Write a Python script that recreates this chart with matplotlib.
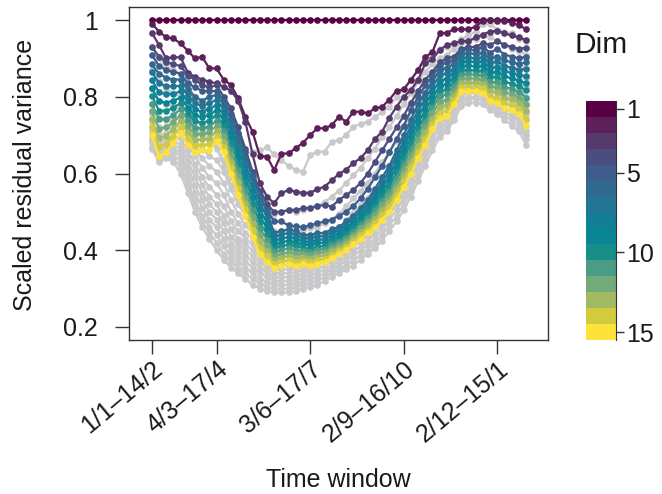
import matplotlib
matplotlib.use("Agg")
import matplotlib.pyplot as plt
import numpy as np
from matplotlib.colors import ListedColormap

plt.rcParams["font.family"] = ["Liberation Sans", "DejaVu Sans"]

# time windows (weekly steps of a 45-day window), labelled every few windows
n_windows = 53
tick_pos = [0, 9, 22, 35, 48]
tick_labels = ["1/1\u201314/2", "4/3\u201317/4", "3/6\u201317/7", "2/9\u201316/10", "2/12\u201315/1"]

dim_ticks = [1, 5, 10, 15]
dim_colors = ["#590045", "#5C2159", "#573A6C", "#4B4D7E", "#3E5D8A",
              "#316A90", "#237594", "#127E97", "#088693", "#188D8A",
              "#4A9C86", "#73AA7A", "#A3BA62", "#D3CB3E", "#FDE23A"]

# scaled residual variance, one list per dimension
dim1 = [1.0, 1.0, 1.0, 1.0, 1.0, 1.0, 1.0, 1.0, 1.0, 1.0, 1.0, 1.0, 1.0, 1.0, 1.0, 1.0, 1.0, 1.0,
        1.0, 1.0, 1.0, 1.0, 1.0, 1.0, 1.0, 1.0, 1.0, 1.0, 1.0, 1.0, 1.0, 1.0, 1.0, 1.0, 1.0, 1.0,
        1.0, 1.0, 1.0, 1.0, 1.0, 1.0, 1.0, 1.0, 1.0, 1.0, 1.0, 1.0, 1.0, 1.0, 1.0, 1.0, 1.0]
dim2 = [0.991, 0.970, 0.955, 0.952, 0.939, 0.920, 0.900, 0.904, 0.874, 0.874, 0.844, 0.831, 0.796,
        0.748, 0.709, 0.646, 0.644, 0.609, 0.651, 0.653, 0.666, 0.680, 0.700, 0.718, 0.718, 0.726,
        0.748, 0.735, 0.761, 0.761, 0.757, 0.770, 0.774, 0.792, 0.816, 0.819, 0.844, 0.870, 0.904,
        0.917, 0.965, 0.967, 0.976, 0.976, 0.976, 0.983, 0.998, 1.0, 0.998, 0.998, 0.993, 0.987, 0.976]
dim3 = [0.967, 0.935, 0.90, 0.903, 0.903, 0.863, 0.852, 0.845, 0.839, 0.835, 0.826, 0.816, 0.79,
        0.735, 0.65, 0.575, 0.54, 0.522, 0.549, 0.557, 0.553, 0.549, 0.55, 0.559, 0.566, 0.582,
        0.599, 0.61, 0.627, 0.64, 0.661, 0.69, 0.709, 0.745, 0.774, 0.80, 0.818, 0.844, 0.887,
        0.898, 0.922, 0.935, 0.94, 0.945, 0.945, 0.955, 0.962, 0.97, 0.972, 0.965, 0.96, 0.955, 0.948]
dim4 = [0.93, 0.905, 0.89, 0.885, 0.88, 0.855, 0.845, 0.83, 0.825, 0.83, 0.80, 0.77, 0.72,
        0.665, 0.605, 0.555, 0.52, 0.50, 0.50, 0.505, 0.505, 0.509, 0.511, 0.515, 0.518, 0.514,
        0.531, 0.544, 0.557, 0.575, 0.60, 0.63, 0.66, 0.69, 0.72, 0.75, 0.785, 0.815, 0.845,
        0.865, 0.89, 0.90, 0.905, 0.925, 0.93, 0.93, 0.94, 0.935, 0.945, 0.935, 0.93, 0.925, 0.928]
dim5 = [0.91, 0.88, 0.87, 0.865, 0.86, 0.835, 0.825, 0.815, 0.815, 0.815, 0.79, 0.755, 0.705,
        0.655, 0.60, 0.545, 0.505, 0.475, 0.475, 0.465, 0.462, 0.46, 0.465, 0.47, 0.475, 0.48,
        0.49, 0.50, 0.515, 0.535, 0.56, 0.59, 0.62, 0.655, 0.69, 0.725, 0.765, 0.80, 0.83,
        0.855, 0.88, 0.89, 0.895, 0.92, 0.925, 0.92, 0.93, 0.915, 0.925, 0.91, 0.905, 0.90, 0.904]
dim6 = [0.885, 0.86, 0.85, 0.845, 0.845, 0.82, 0.80, 0.79, 0.80, 0.805, 0.78, 0.74, 0.69,
        0.64, 0.59, 0.54, 0.50, 0.445, 0.45, 0.455, 0.45, 0.44, 0.44, 0.445, 0.445, 0.455,
        0.46, 0.475, 0.49, 0.51, 0.53, 0.56, 0.59, 0.62, 0.66, 0.70, 0.74, 0.78, 0.81,
        0.84, 0.87, 0.875, 0.885, 0.91, 0.915, 0.91, 0.915, 0.90, 0.905, 0.895, 0.89, 0.885, 0.89]
dim7 = [0.864, 0.836, 0.828, 0.827, 0.829, 0.804, 0.784, 0.776, 0.784, 0.792, 0.766, 0.724, 0.674,
        0.623, 0.573, 0.523, 0.486, 0.435, 0.44, 0.445, 0.44, 0.432, 0.431, 0.436, 0.437, 0.447,
        0.452, 0.467, 0.482, 0.501, 0.521, 0.549, 0.578, 0.607, 0.646, 0.685, 0.724, 0.764, 0.795,
        0.826, 0.856, 0.861, 0.873, 0.899, 0.904, 0.899, 0.903, 0.888, 0.892, 0.881, 0.876, 0.871, 0.872]
dim8 = [0.844, 0.812, 0.807, 0.808, 0.814, 0.788, 0.768, 0.761, 0.769, 0.778, 0.752, 0.709, 0.658,
        0.607, 0.556, 0.507, 0.471, 0.425, 0.43, 0.435, 0.43, 0.423, 0.422, 0.427, 0.428, 0.438,
        0.444, 0.458, 0.473, 0.492, 0.511, 0.538, 0.566, 0.593, 0.631, 0.67, 0.709, 0.749, 0.78,
        0.812, 0.842, 0.847, 0.862, 0.889, 0.893, 0.889, 0.892, 0.876, 0.878, 0.867, 0.862, 0.856, 0.853]
dim9 = [0.823, 0.788, 0.785, 0.79, 0.798, 0.772, 0.752, 0.747, 0.753, 0.765, 0.738, 0.693, 0.642,
        0.59, 0.538, 0.49, 0.457, 0.415, 0.42, 0.425, 0.42, 0.415, 0.413, 0.418, 0.42, 0.43,
        0.437, 0.45, 0.465, 0.483, 0.502, 0.527, 0.553, 0.58, 0.617, 0.655, 0.693, 0.733, 0.765,
        0.798, 0.828, 0.833, 0.85, 0.878, 0.882, 0.878, 0.88, 0.863, 0.865, 0.853, 0.848, 0.842, 0.835]
dim10 = [0.803, 0.764, 0.763, 0.772, 0.783, 0.756, 0.736, 0.732, 0.738, 0.752, 0.724, 0.678, 0.626,
         0.573, 0.521, 0.473, 0.442, 0.405, 0.41, 0.415, 0.41, 0.407, 0.404, 0.409, 0.412, 0.422,
         0.429, 0.442, 0.457, 0.474, 0.492, 0.516, 0.541, 0.567, 0.602, 0.64, 0.678, 0.718, 0.75,
         0.784, 0.814, 0.819, 0.838, 0.868, 0.871, 0.868, 0.868, 0.851, 0.852, 0.839, 0.834, 0.827, 0.817]
dim11 = [0.782, 0.741, 0.742, 0.753, 0.767, 0.739, 0.719, 0.718, 0.722, 0.738, 0.711, 0.662, 0.609,
         0.557, 0.504, 0.457, 0.428, 0.395, 0.40, 0.405, 0.40, 0.398, 0.396, 0.401, 0.403, 0.413,
         0.421, 0.433, 0.448, 0.466, 0.483, 0.504, 0.529, 0.553, 0.588, 0.625, 0.662, 0.702, 0.735,
         0.771, 0.801, 0.806, 0.827, 0.857, 0.859, 0.857, 0.857, 0.839, 0.838, 0.826, 0.821, 0.813, 0.798]
dim12 = [0.762, 0.717, 0.72, 0.735, 0.752, 0.723, 0.703, 0.703, 0.707, 0.725, 0.697, 0.647, 0.593,
         0.54, 0.487, 0.44, 0.413, 0.385, 0.39, 0.395, 0.39, 0.39, 0.387, 0.392, 0.395, 0.405,
         0.413, 0.425, 0.44, 0.457, 0.473, 0.493, 0.517, 0.54, 0.573, 0.61, 0.647, 0.687, 0.72,
         0.757, 0.787, 0.792, 0.815, 0.847, 0.848, 0.847, 0.845, 0.827, 0.825, 0.812, 0.807, 0.798, 0.78]
dim13 = [0.741, 0.693, 0.698, 0.717, 0.736, 0.707, 0.687, 0.689, 0.691, 0.712, 0.683, 0.631, 0.577,
         0.523, 0.469, 0.423, 0.399, 0.375, 0.38, 0.385, 0.38, 0.382, 0.378, 0.383, 0.387, 0.397,
         0.406, 0.417, 0.432, 0.448, 0.464, 0.482, 0.504, 0.527, 0.559, 0.595, 0.631, 0.671, 0.705,
         0.743, 0.773, 0.778, 0.803, 0.836, 0.837, 0.836, 0.833, 0.814, 0.812, 0.798, 0.793, 0.784, 0.762]
dim14 = [0.721, 0.669, 0.677, 0.698, 0.721, 0.691, 0.671, 0.674, 0.676, 0.698, 0.669, 0.616, 0.561,
         0.507, 0.452, 0.407, 0.384, 0.365, 0.37, 0.375, 0.37, 0.373, 0.369, 0.374, 0.378, 0.388,
         0.398, 0.408, 0.423, 0.439, 0.454, 0.471, 0.492, 0.513, 0.544, 0.58, 0.616, 0.656, 0.69,
         0.729, 0.759, 0.764, 0.792, 0.826, 0.826, 0.826, 0.822, 0.802, 0.798, 0.784, 0.779, 0.769, 0.743]
dim15 = [0.70, 0.645, 0.655, 0.68, 0.705, 0.675, 0.655, 0.66, 0.66, 0.685, 0.655, 0.60, 0.545,
         0.49, 0.435, 0.39, 0.37, 0.355, 0.36, 0.365, 0.36, 0.365, 0.36, 0.365, 0.37, 0.38,
         0.39, 0.40, 0.415, 0.43, 0.445, 0.46, 0.48, 0.50, 0.53, 0.565, 0.60, 0.64, 0.675,
         0.715, 0.745, 0.75, 0.78, 0.815, 0.815, 0.815, 0.81, 0.79, 0.785, 0.77, 0.765, 0.755, 0.725]

# grey reference curves
grey2 = [0.93, 0.90, 0.88, 0.87, 0.86, 0.83, 0.80, 0.78, 0.76, 0.74, 0.72, 0.70, 0.68,
         0.655, 0.655, 0.66, 0.668, 0.65, 0.635, 0.62, 0.61, 0.605, 0.648, 0.657, 0.657, 0.683,
         0.687, 0.70, 0.722, 0.73, 0.735, 0.748, 0.76, 0.774, 0.80, 0.82, 0.845, 0.87, 0.895,
         0.91, 0.925, 0.93, 0.935, 0.95, 0.96, 0.97, 0.99, 0.99, 0.975, 0.97, 0.965, 0.95, 0.945]
grey3 = [0.87, 0.84, 0.82, 0.81, 0.80, 0.77, 0.745, 0.72, 0.695, 0.67, 0.62, 0.57, 0.54,
         0.53, 0.52, 0.515, 0.50, 0.495, 0.50, 0.505, 0.50, 0.505, 0.51, 0.515, 0.525, 0.54,
         0.555, 0.575, 0.595, 0.615, 0.64, 0.665, 0.695, 0.72, 0.75, 0.78, 0.81, 0.84, 0.865,
         0.885, 0.90, 0.91, 0.925, 0.94, 0.945, 0.95, 0.96, 0.955, 0.945, 0.935, 0.925, 0.92, 0.91]
grey4 = [0.82, 0.79, 0.78, 0.775, 0.77, 0.74, 0.72, 0.70, 0.68, 0.665, 0.635, 0.59, 0.55,
         0.52, 0.495, 0.48, 0.465, 0.45, 0.45, 0.45, 0.45, 0.453, 0.457, 0.46, 0.47, 0.48,
         0.495, 0.515, 0.535, 0.555, 0.575, 0.60, 0.63, 0.655, 0.685, 0.72, 0.75, 0.785, 0.82,
         0.845, 0.865, 0.875, 0.89, 0.91, 0.915, 0.915, 0.92, 0.91, 0.905, 0.895, 0.89, 0.885, 0.875]
grey5 = [0.78, 0.745, 0.74, 0.745, 0.74, 0.71, 0.69, 0.665, 0.645, 0.635, 0.605, 0.56, 0.52,
         0.49, 0.465, 0.45, 0.43, 0.41, 0.41, 0.412, 0.415, 0.418, 0.42, 0.425, 0.435, 0.445,
         0.46, 0.478, 0.497, 0.517, 0.537, 0.56, 0.59, 0.615, 0.645, 0.68, 0.715, 0.75, 0.785,
         0.815, 0.84, 0.85, 0.865, 0.89, 0.895, 0.895, 0.90, 0.89, 0.885, 0.875, 0.87, 0.865, 0.85]
grey6 = [0.755, 0.72, 0.72, 0.725, 0.72, 0.69, 0.665, 0.64, 0.62, 0.605, 0.575, 0.53, 0.495,
         0.465, 0.445, 0.43, 0.41, 0.385, 0.385, 0.388, 0.39, 0.393, 0.397, 0.40, 0.41, 0.42,
         0.435, 0.452, 0.47, 0.49, 0.51, 0.532, 0.56, 0.585, 0.615, 0.65, 0.685, 0.725, 0.765,
         0.795, 0.82, 0.83, 0.85, 0.875, 0.88, 0.88, 0.885, 0.87, 0.865, 0.855, 0.85, 0.845, 0.825]
grey7 = [0.735, 0.70, 0.705, 0.71, 0.705, 0.675, 0.645, 0.615, 0.59, 0.575, 0.545, 0.50, 0.47,
         0.445, 0.43, 0.415, 0.395, 0.37, 0.37, 0.372, 0.375, 0.38, 0.385, 0.39, 0.40, 0.41,
         0.42, 0.437, 0.455, 0.475, 0.492, 0.513, 0.54, 0.565, 0.595, 0.63, 0.665, 0.705, 0.745,
         0.775, 0.80, 0.81, 0.83, 0.86, 0.865, 0.865, 0.87, 0.855, 0.85, 0.84, 0.835, 0.825, 0.80]
grey8 = [0.72, 0.68, 0.69, 0.695, 0.69, 0.66, 0.625, 0.59, 0.565, 0.545, 0.515, 0.475, 0.45,
         0.43, 0.415, 0.40, 0.38, 0.36, 0.36, 0.36, 0.363, 0.368, 0.375, 0.38, 0.39, 0.40,
         0.41, 0.425, 0.442, 0.46, 0.477, 0.497, 0.525, 0.55, 0.58, 0.61, 0.645, 0.685, 0.725,
         0.76, 0.78, 0.795, 0.815, 0.845, 0.85, 0.85, 0.855, 0.84, 0.835, 0.82, 0.815, 0.805, 0.775]
grey9 = [0.71, 0.67, 0.68, 0.685, 0.675, 0.645, 0.61, 0.57, 0.54, 0.52, 0.49, 0.455, 0.43,
         0.415, 0.40, 0.385, 0.367, 0.35, 0.35, 0.35, 0.353, 0.358, 0.365, 0.37, 0.38, 0.39,
         0.40, 0.414, 0.43, 0.447, 0.463, 0.483, 0.51, 0.535, 0.565, 0.595, 0.63, 0.67, 0.71,
         0.745, 0.765, 0.78, 0.80, 0.835, 0.84, 0.84, 0.84, 0.825, 0.82, 0.805, 0.80, 0.79, 0.755]
grey10 = [0.70, 0.66, 0.67, 0.675, 0.665, 0.63, 0.59, 0.55, 0.52, 0.50, 0.47, 0.435, 0.415,
          0.40, 0.385, 0.37, 0.355, 0.34, 0.34, 0.34, 0.343, 0.348, 0.355, 0.36, 0.37, 0.38,
          0.39, 0.403, 0.418, 0.435, 0.45, 0.47, 0.495, 0.52, 0.55, 0.58, 0.615, 0.655, 0.695,
          0.73, 0.755, 0.765, 0.79, 0.825, 0.83, 0.83, 0.83, 0.815, 0.81, 0.795, 0.785, 0.775, 0.74]
grey11 = [0.69, 0.655, 0.66, 0.665, 0.655, 0.615, 0.57, 0.53, 0.50, 0.48, 0.45, 0.415, 0.40,
          0.385, 0.37, 0.355, 0.342, 0.33, 0.33, 0.33, 0.333, 0.338, 0.345, 0.35, 0.36, 0.37,
          0.38, 0.393, 0.408, 0.423, 0.438, 0.457, 0.48, 0.507, 0.535, 0.565, 0.60, 0.64, 0.68,
          0.715, 0.74, 0.75, 0.78, 0.815, 0.82, 0.82, 0.82, 0.805, 0.795, 0.78, 0.775, 0.76, 0.725]
grey12 = [0.685, 0.645, 0.655, 0.66, 0.645, 0.60, 0.55, 0.51, 0.48, 0.46, 0.43, 0.40, 0.385,
          0.37, 0.355, 0.34, 0.33, 0.32, 0.32, 0.32, 0.323, 0.328, 0.335, 0.34, 0.35, 0.36,
          0.37, 0.383, 0.397, 0.41, 0.425, 0.443, 0.467, 0.493, 0.52, 0.55, 0.585, 0.625, 0.665,
          0.70, 0.73, 0.74, 0.77, 0.805, 0.81, 0.81, 0.81, 0.795, 0.785, 0.77, 0.76, 0.75, 0.71]
grey13 = [0.68, 0.64, 0.65, 0.65, 0.63, 0.58, 0.53, 0.49, 0.46, 0.44, 0.41, 0.385, 0.37,
          0.355, 0.34, 0.325, 0.317, 0.31, 0.31, 0.31, 0.313, 0.318, 0.325, 0.33, 0.34, 0.35,
          0.36, 0.372, 0.385, 0.40, 0.413, 0.43, 0.455, 0.48, 0.505, 0.535, 0.57, 0.61, 0.65,
          0.69, 0.72, 0.73, 0.76, 0.795, 0.80, 0.80, 0.80, 0.785, 0.775, 0.76, 0.75, 0.74, 0.70]
grey14 = [0.67, 0.635, 0.645, 0.64, 0.615, 0.565, 0.515, 0.475, 0.445, 0.42, 0.39, 0.37, 0.355,
          0.34, 0.325, 0.313, 0.305, 0.30, 0.30, 0.30, 0.303, 0.31, 0.315, 0.32, 0.33, 0.34,
          0.35, 0.36, 0.372, 0.387, 0.40, 0.418, 0.44, 0.465, 0.49, 0.52, 0.555, 0.595, 0.635,
          0.675, 0.705, 0.72, 0.75, 0.785, 0.795, 0.795, 0.79, 0.775, 0.765, 0.75, 0.74, 0.725, 0.69]
grey15 = [0.665, 0.63, 0.64, 0.63, 0.60, 0.55, 0.50, 0.46, 0.43, 0.40, 0.375, 0.355, 0.34,
          0.325, 0.31, 0.30, 0.295, 0.29, 0.29, 0.29, 0.293, 0.30, 0.305, 0.31, 0.32, 0.33,
          0.34, 0.35, 0.36, 0.375, 0.39, 0.405, 0.425, 0.45, 0.475, 0.505, 0.54, 0.58, 0.62,
          0.66, 0.695, 0.71, 0.74, 0.775, 0.785, 0.785, 0.78, 0.765, 0.755, 0.74, 0.725, 0.71, 0.675]

dim_lines = [dim1, dim2, dim3, dim4, dim5, dim6, dim7, dim8, dim9, dim10,
             dim11, dim12, dim13, dim14, dim15]
grey_lines = [grey2, grey3, grey4, grey5, grey6, grey7, grey8, grey9, grey10,
              grey11, grey12, grey13, grey14, grey15]

frame_col = "#333333"
text_col = "#1a1a1a"

fig = plt.figure(figsize=(6.62, 4.94), dpi=100)
ax = fig.add_axes([0.1956, 0.3117, 0.6322, 0.6741])

x = np.arange(n_windows)
for g in grey_lines:
    ax.plot(x, g, color="#c9c9cb", lw=1.6, marker="o", ms=4.8, mew=0, zorder=1)
for k, (vals, col) in enumerate(zip(dim_lines, dim_colors)):
    ax.plot(x, vals, color=col, lw=1.6, marker="o", ms=4.8, mew=0, zorder=2 + k)

ax.set_xlim(-3.1, 55.05)
ax.set_ylim(0.166, 1.034)
ax.set_yticks([0.2, 0.4, 0.6, 0.8, 1.0])
ax.set_yticklabels(["0.2", "0.4", "0.6", "0.8", "1"])
ax.set_xticks(tick_pos)
ax.set_xticklabels(tick_labels, rotation=40, ha="right", va="top",
                   rotation_mode="anchor")
ax.tick_params(axis="both", length=10, width=1, color=frame_col,
               labelsize=18, labelcolor=text_col)
ax.tick_params(axis="y", pad=13)
ax.tick_params(axis="x", pad=2)
for s in ax.spines.values():
    s.set_color(frame_col)
    s.set_linewidth(1)

fig.text(25 / 662, 1 - 175 / 494, "Scaled residual variance", rotation=90,
         ha="center", va="center", fontsize=18, color=text_col)
fig.text(338.8 / 662, 1 - 480 / 494, "Time window", ha="center", va="center",
         fontsize=18, color=text_col)

# discrete colour key for the dimensions
cax = fig.add_axes([0.8852, 0.3117, 0.0453, 0.4838])
cax.imshow(np.arange(15).reshape(-1, 1), cmap=ListedColormap(dim_colors),
           aspect="auto", extent=(0, 1, 15.5, 0.5), interpolation="nearest")
cax.set_xticks([])
cax.yaxis.tick_right()
cax.set_yticks(dim_ticks)
cax.set_yticklabels([str(t) for t in dim_ticks])
cax.tick_params(axis="y", length=6, width=1, color=frame_col, labelsize=18,
                labelcolor=text_col, pad=1)
for side in ["left", "top", "bottom"]:
    cax.spines[side].set_visible(False)
cax.spines["right"].set_color(frame_col)
fig.text(601 / 662, 1 - 45 / 494, "Dim", ha="center", va="center",
         fontsize=21.5, color=text_col)

fig.savefig("out.png", dpi=100)
